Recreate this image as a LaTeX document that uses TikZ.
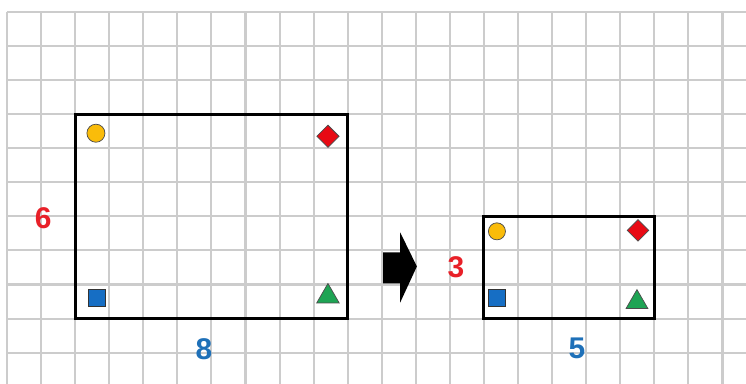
\documentclass[tikz,border=0pt]{standalone}
\usepackage{fontspec}
\usetikzlibrary{shapes.geometric}
\newfontfamily\numfont{Liberation Sans Bold}

\definecolor{gridgray}{RGB}{204,204,204}
\definecolor{sidered}{RGB}{232,32,40}
\definecolor{sideblue}{RGB}{30,112,184}
\definecolor{dotyellow}{RGB}{250,188,10}
\definecolor{gemred}{RGB}{232,10,20}
\definecolor{boxblue}{RGB}{22,110,196}
\definecolor{treegreen}{RGB}{30,164,84}

\tikzset{
  gridline/.style={gridgray, line width=1.7pt},
  frame/.style={black, line width=2.5pt},
  dot/.style={circle, draw=black!70, line width=0.6pt, fill=dotyellow, inner sep=0pt, minimum size=#1},
  gem/.style={diamond, draw=black!70, line width=0.6pt, fill=gemred, inner sep=0pt, minimum size=#1},
  box/.style={rectangle, draw=black!80, line width=0.6pt, fill=boxblue, inner sep=0pt, minimum size=#1},
  tree/.style={regular polygon, regular polygon sides=3, draw=black!70, line width=0.6pt, fill=treegreen, inner sep=0pt, minimum size=#1},
  sidelabel/.style={font=\numfont\fontsize{25}{25}\selectfont, inner sep=0pt}
}

\begin{document}
\begin{tikzpicture}
    \useasboundingbox (-0.205,-0.91) rectangle (21.69,10.35);

    % the squared paper
    \draw[gridline] (0,-0.91) grid (21.69,10);

    % the big rectangle (8 by 6)
    \draw[frame] (2,1) rectangle (10,7);
    % the four marks in its corners
    \node[dot=0.53cm] (bigdot) at (2.61,6.44) {};
    \node[gem=0.66cm] (biggem) at (9.42,6.35) {};
    \node[box=0.5cm] (bigbox) at (2.64,1.62) {};
    \node[tree=0.76cm] (bigtree) at (9.42,1.65) {};

    % the side lengths of the big rectangle
    \node[sidelabel, sidered] (bigh) at (1.06,3.94) {6};
    \node[sidelabel, sideblue] (bigw) at (5.78,0.09) {8};

    % the block arrow between the two rectangles
    \fill[black] (11.04,2.94) -- (11.54,2.94) -- (11.54,3.53) -- (12.03,2.53)
        -- (11.54,1.47) -- (11.54,2.03) -- (11.04,2.03) -- cycle;

    % the small rectangle (5 by 3)
    \draw[frame] (14,1) rectangle (19,4);
    % the four marks in its corners
    \node[dot=0.5cm] (smalldot) at (14.38,3.56) {};
    \node[gem=0.64cm] (smallgem) at (18.52,3.59) {};
    \node[box=0.5cm] (smallbox) at (14.38,1.62) {};
    \node[tree=0.74cm] (smalltree) at (18.49,1.48) {};

    % the side lengths of the small rectangle
    \node[sidelabel, sidered] (smallh) at (13.18,2.5) {3};
    \node[sidelabel, sideblue] (smallw) at (16.73,0.12) {5};
\end{tikzpicture}
\end{document}
